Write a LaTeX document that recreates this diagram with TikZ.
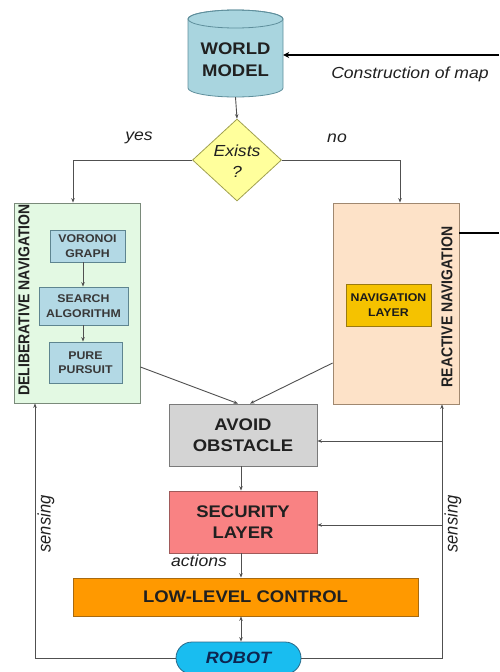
\documentclass[tikz,border=0pt]{standalone}
\usepackage{fontspec}
\usepackage{graphicx}
\setmainfont[FakeStretch=1.1]{Liberation Sans}
\newfontfamily\vfont{Liberation Sans}
\usetikzlibrary{shapes.geometric,arrows.meta,calc}
\definecolor{cylfill}{HTML}{A9D5DF}
\definecolor{cylborder}{HTML}{5F8F9C}
\definecolor{diafill}{HTML}{FFFF9C}
\definecolor{diaborder}{HTML}{A0A050}
\definecolor{delfill}{HTML}{E3F9E3}
\definecolor{delborder}{HTML}{7A8A7A}
\definecolor{innerfill}{HTML}{B3D9E5}
\definecolor{innerborder}{HTML}{5E8590}
\definecolor{reafill}{HTML}{FDE2C8}
\definecolor{reaborder}{HTML}{A08870}
\definecolor{navfill}{HTML}{F5C200}
\definecolor{navborder}{HTML}{9A7A10}
\definecolor{avofill}{HTML}{D4D4D4}
\definecolor{avoborder}{HTML}{7A7A7A}
\definecolor{secfill}{HTML}{F98283}
\definecolor{secborder}{HTML}{A05A5A}
\definecolor{lowfill}{HTML}{FF9900}
\definecolor{lowborder}{HTML}{A86A10}
\definecolor{robfill}{HTML}{19BDF0}
\definecolor{robborder}{HTML}{2A6A8A}
\definecolor{robtext}{HTML}{0D2550}
\definecolor{linegray}{HTML}{505050}
\definecolor{txt}{HTML}{202020}
\definecolor{innertxt}{HTML}{383838}
\begin{document}
\begin{tikzpicture}[x=1pt,y=-1pt,
  conn/.style={draw=linegray, line width=0.9pt},
  arr/.style={conn,-{Stealth[length=4.5pt,width=3.5pt]}},
  thickarr/.style={draw=black, line width=2.6pt,-{Stealth[length=6pt,width=6pt]}},
  box/.style={draw, line width=0.8pt, inner sep=0pt, align=center},
  bigtxt/.style={font=\fontsize{16.8}{21.5}\selectfont\bfseries, text=txt},
  innertxtst/.style={font=\fontsize{11.2}{14.5}\selectfont\bfseries, text=innertxt},
  lbl/.style={font=\fontsize{16}{19}\selectfont\itshape, text=txt, inner sep=0pt},
  vlbl/.style={rotate=90, font=\vfont\fontsize{14}{16}\selectfont\bfseries, text=txt, inner sep=0pt},
  vsense/.style={rotate=90, font=\vfont\fontsize{16.5}{18}\selectfont\itshape, text=txt, inner sep=0pt},
  innerbox/.style={box, fill=innerfill, draw=innerborder, innertxtst}
]
\useasboundingbox (0,0) rectangle (499,672);
% world model cylinder
\filldraw[fill=cylfill, draw=cylborder, line width=0.8pt]
  (188,19) -- (188,88) arc[start angle=180, end angle=0, x radius=47.5, y radius=9]
  -- (283,19) arc[start angle=0, end angle=-180, x radius=47.5, y radius=9] -- cycle;
\draw[draw=cylborder, line width=0.8pt] (235.5,19) ellipse[x radius=47.5, y radius=9];
\node[bigtxt, align=center, minimum width=95pt, minimum height=87pt, inner sep=0pt] (world) at (235.5,53.5) {};
\node[bigtxt, align=center] (worldtxt) at (235.5,59.5) {WORLD\\MODEL};
\coordinate (mapin) at (499,55);
\draw[thickarr] (mapin) -- (mapin -| world.east);
\node[lbl] (maptxt) at (410,74) {Construction of map};
% decision
\node[diamond, draw=diaborder, fill=diafill, line width=0.8pt, minimum width=89pt, minimum height=82pt, inner sep=0pt] (exists) at (237,160) {};
\node[lbl, align=center, font=\fontsize{16}{21}\selectfont\itshape] (existstxt) at (237,161) {Exists\\?};
\draw[arr] (world.south) -- (exists.north);
\node[lbl] (yes) at (139,138) {yes};
\node[lbl] (no) at (337,138) {no};
% deliberative
\node[box, fill=delfill, draw=delborder, minimum width=126pt, minimum height=200pt] (delib) at (77,303) {};
\node[vlbl] (dellbl) at (24,300) {\scalebox{1}[1.12]{DELIBERATIVE NAVIGATION}};
\node[innerbox, minimum width=75pt, minimum height=32pt] (voronoi) at (87.5,246) {VORONOI\\GRAPH};
\node[innerbox, minimum width=89pt, minimum height=38pt] (search) at (83.5,306) {SEARCH\\ALGORITHM};
\node[innerbox, minimum width=73pt, minimum height=41pt] (pure) at (85.5,362.5) {PURE\\PURSUIT};
\coordinate (ix) at (83,0);
\draw[arr] (voronoi.south -| ix) -- (search.north -| ix);
\draw[arr] (search.south -| ix) -- (pure.north -| ix);
% reactive
\node[box, fill=reafill, draw=reaborder, minimum width=126pt, minimum height=201pt] (react) at (396,303.5) {};
\node[vlbl] (realbl) at (447,307) {\scalebox{1}[1.12]{REACTIVE NAVIGATION}};
\node[box, fill=navfill, draw=navborder, innertxtst, text=txt!85!black, minimum width=85pt, minimum height=42pt] (nav) at (388.5,305) {NAVIGATION\\LAYER};
\coordinate (reout) at (499,233);
\draw[draw=black, line width=2.6pt] (react.east |- reout) -- (reout);
% decision branches
\draw[arr] (exists.west) -| ([xshift=-4pt]delib.north);
\draw[arr] (exists.east) -| ([xshift=4pt]react.north);
% lower boxes
\node[box, fill=avofill, draw=avoborder, bigtxt, minimum width=148pt, minimum height=62pt] (avoid) at (243,435) {AVOID\\OBSTACLE};
\node[box, fill=secfill, draw=secborder, bigtxt, minimum width=148pt, minimum height=62pt] (security) at (243,522) {SECURITY\\LAYER};
\node[box, fill=lowfill, draw=lowborder, bigtxt, minimum width=345pt, minimum height=38pt] (low) at (245.5,597) {LOW-LEVEL CONTROL};
\node[box, fill=robfill, draw=robborder, rounded corners=16pt, minimum width=125pt, minimum height=32pt,
  font=\fontsize{16.4}{19}\selectfont\bfseries\itshape, text=robtext] (robot) at (238.5,658) {ROBOT};
% diagonals into avoid obstacle
\coordinate (dl) at (0,367);
\coordinate (dr) at (0,363);
\draw[arr] (delib.east |- dl) -- ([xshift=-5pt]avoid.north);
\draw[arr] (react.west |- dr) -- ([xshift=7pt]avoid.north);
% vertical chain
\coordinate (ax) at (241,0);
\draw[arr] (avoid.south -| ax) -- (security.north -| ax);
\draw[arr] (security.south -| ax) -- (low.north -| ax);
\draw[conn, {Stealth[length=4.5pt,width=3.5pt]}-{Stealth[length=4.5pt,width=3.5pt]}] (low.south -| ax) -- (robot.north -| ax);
\node[lbl] (actions) at (199,561) {actions};
% sensing loops
\draw[arr] (robot.west) -| ([xshift=-42pt]delib.south);
\draw[arr] (robot.east) -| ([xshift=46pt]react.south);
\coordinate (b1) at (442,441);
\coordinate (b2) at (442,525);
\draw[arr] (b1) -- (b1 -| avoid.east);
\draw[arr] (b2) -- (b2 -| security.east);
\node[vsense] (senseL) at (46,524) {\scalebox{1}[1.1]{sensing}};
\node[vsense] (senseR) at (453,524) {\scalebox{1}[1.1]{sensing}};
\end{tikzpicture}
\end{document}
